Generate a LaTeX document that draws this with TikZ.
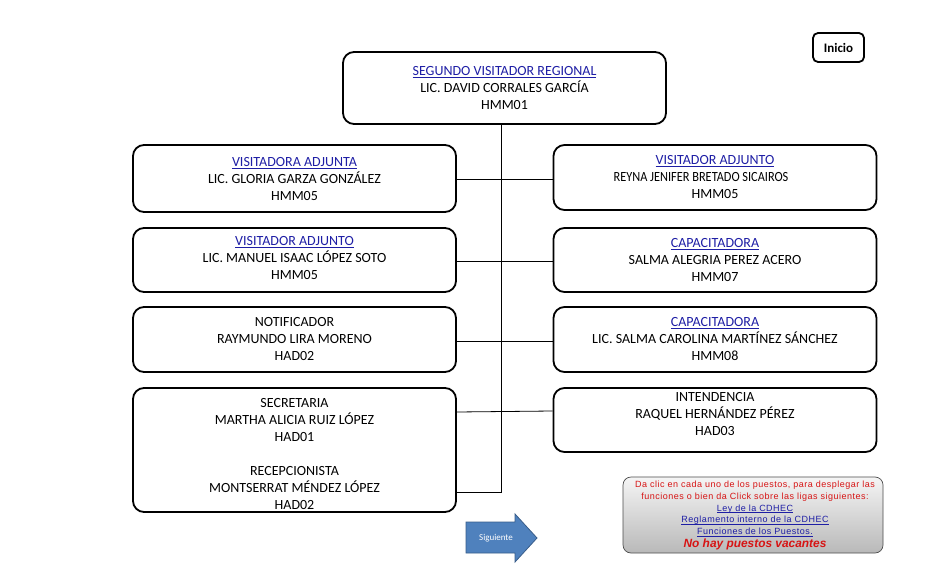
\documentclass[tikz,border=0pt]{standalone}
\usepackage{fontspec}
\setmainfont{Carlito}
\newfontfamily\arialf{Liberation Sans}[LetterSpace=5.5]
\newfontfamily\arialb{Liberation Sans}
\definecolor{linkblue}{RGB}{30,30,165}
\definecolor{infored}{RGB}{215,20,20}
\definecolor{arrowfill}{RGB}{79,129,189}
\definecolor{arrowdraw}{RGB}{56,93,138}
\newcommand{\lnk}[1]{\textcolor{linkblue}{\underline{\raisebox{0pt}[\height][0pt]{#1}}}}
\begin{document}
\begin{tikzpicture}[x=1pt,y=-1pt,
  box/.style={draw=black, line width=1.8pt, rounded corners=11pt, inner sep=0pt, minimum width=323pt},
  txt/.style={align=center, inner sep=0pt, font=\fontsize{14}{17}\selectfont},
  conn/.style={draw=black, line width=0.8pt}]
\useasboundingbox (0,0) rectangle (936,567);
\fill[white] (0,0) rectangle (936,567);

% Inicio
\node[draw=black, line width=1.8pt, rounded corners=5pt, minimum width=51pt, minimum height=29pt, inner sep=0pt, font=\fontsize{13}{14}\selectfont\bfseries] (inicio) at (838.5,47.5) {Inicio};

% top box
\node[box, minimum height=72pt] (top) at (504.5,88) {};
\node[txt] (ttop) at (504.5,88) {\lnk{SEGUNDO VISITADOR REGIONAL}\\LIC. DAVID CORRALES GARCÍA\\HMM01};

% left column
\node[box, minimum height=67pt] (l1) at (294.5,178.5) {};
\node[txt] (tl1) at (294.5,179) {\lnk{VISITADORA ADJUNTA}\\LIC. GLORIA GARZA GONZÁLEZ\\HMM05};
\node[box, minimum height=64pt] (l2) at (294.5,260) {};
\node[txt] (tl2) at (294.5,258) {\lnk{VISITADOR ADJUNTO}\\LIC. MANUEL ISAAC LÓPEZ SOTO\\HMM05};
\node[box, minimum height=65pt] (l3) at (294.5,339.5) {};
\node[txt] (tl3) at (294.5,339) {NOTIFICADOR\\RAYMUNDO LIRA MORENO\\HAD02};
\node[box, minimum height=124pt] (l4) at (294.5,450) {};
\node[txt] (tl4a) at (294.5,420) {SECRETARIA\\MARTHA ALICIA RUIZ LÓPEZ\\HAD01};
\node[txt] (tl4b) at (294.5,488) {RECEPCIONISTA\\MONTSERRAT MÉNDEZ LÓPEZ\\HAD02};

% right column
\node[box, minimum height=65pt] (r1) at (715,177.5) {};
\node[txt] (tr1) at (715,177) {\lnk{VISITADOR ADJUNTO}\\\hspace*{-28pt}\scalebox{0.88}[1]{REYNA JENIFER BRETADO SICAIROS}\\HMM05};
\node[box, minimum height=64pt] (r2) at (715,260) {};
\node[txt] (tr2) at (715,260) {\lnk{CAPACITADORA}\\SALMA ALEGRIA PEREZ ACERO\\HMM07};
\node[box, minimum height=65pt] (r3) at (715,339.5) {};
\node[txt] (tr3) at (715,339) {\lnk{CAPACITADORA}\\LIC. SALMA CAROLINA MARTÍNEZ SÁNCHEZ\\HMM08};
\node[box, minimum height=64pt] (r4) at (715,420) {};
\node[txt] (tr4) at (715,414) {INTENDENCIA\\RAQUEL HERNÁNDEZ PÉREZ\\HAD03};

% connectors
\coordinate (sp) at (501,492);
\draw[conn] (top.south -| sp) -- (sp) -- (l4.east |- sp);
\draw[conn] (l1.east |- 0,179) -- (r1.west |- 0,179);
\draw[conn] (l2.east |- 0,261) -- (r2.west |- 0,261);
\draw[conn] (l3.east |- 0,341) -- (r3.west |- 0,341);
\draw[conn] (l4.east |- 0,412) -- (r4.west |- 0,411);

% Siguiente arrow
\draw[fill=arrowfill, draw=arrowdraw, line width=0.8pt]
  (466,522) -- (515,522) -- (515,514) -- (537,538) -- (515,562) -- (515,553) -- (466,553) -- cycle;
\node[text=white, font=\fontsize{9}{10}\selectfont, inner sep=0pt] (sig) at (496,538) {Siguiente};

% info box
\node[draw=black!70, line width=0.7pt, rounded corners=8pt, top color=gray!8, bottom color=gray!55,
  minimum width=260pt, minimum height=76pt, inner sep=0pt] (info) at (753,515) {};
\node[align=center, inner sep=0pt, font=\arialf\fontsize{9}{11.8}\selectfont] (tinfo) at (755,515.5)
 {\textcolor{infored}{Da clic en cada uno de los puestos, para desplegar las}\\
  \textcolor{infored}{funciones o bien da Click sobre las ligas siguientes:}\\
  \lnk{Ley de la CDHEC}\\
  \lnk{Reglamento interno de la CDHEC}\\
  \lnk{Funciones de los Puestos.}\\[1pt]
  {\arialb\fontsize{11.9}{12}\selectfont\bfseries\itshape\textcolor{infored}{No hay puestos vacantes}}};
\end{tikzpicture}
\end{document}
